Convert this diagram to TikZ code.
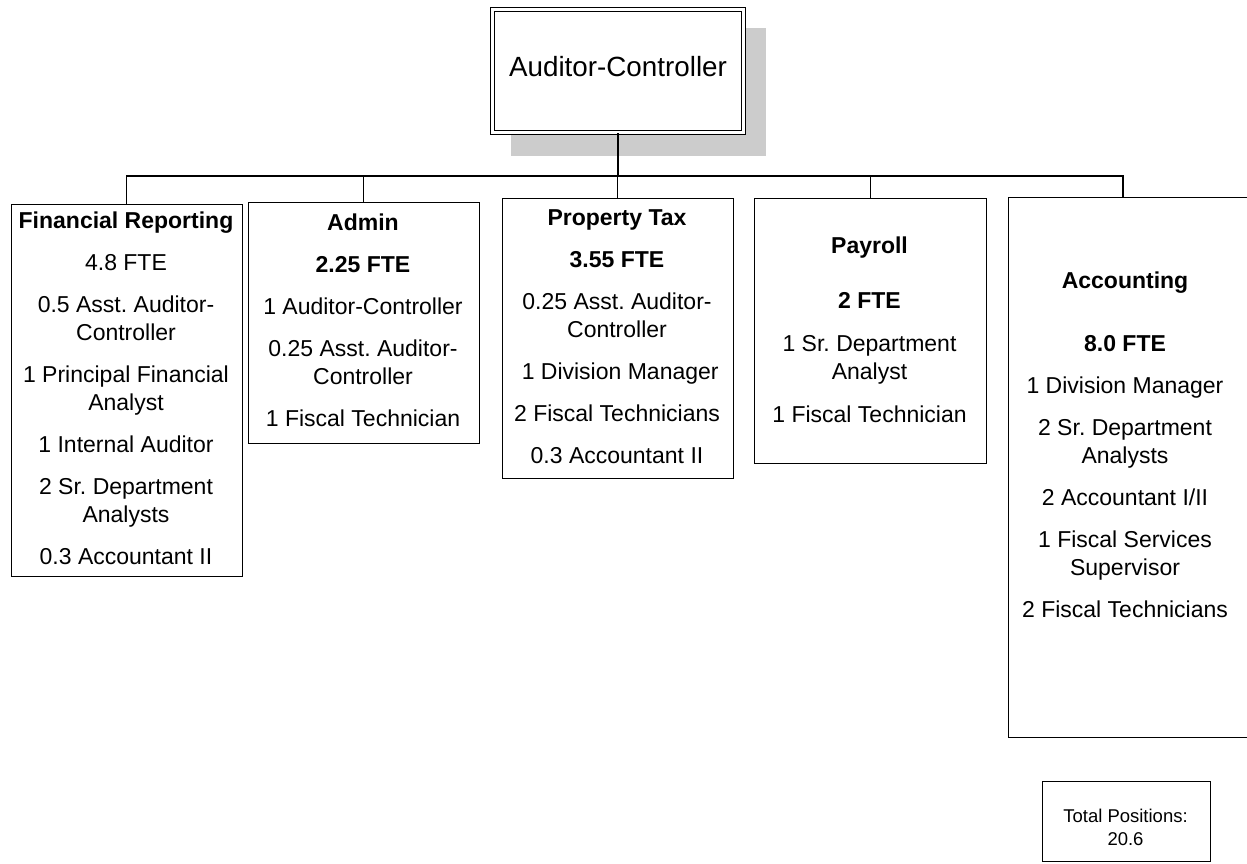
\documentclass[tikz,border=0pt]{standalone}
\usepackage{fontspec}
\setmainfont{Liberation Sans}
\frenchspacing

\begin{document}
\begin{tikzpicture}[x=1pt, y=-1pt, line width=1.3pt,
    dept/.style={draw, fill=white, inner sep=0pt, anchor=north west},
    staff/.style={align=center, inner sep=0pt, anchor=north, font=\fontsize{23}{28}\selectfont}]
    \useasboundingbox (0,0) rectangle (1247,863);
    \clip (0,0) rectangle (1247,863);
    % Head box with its shadow
    \fill[black!20] (511,28) rectangle (766,156);
    \node[dept, double, double distance=2.2pt, line width=1.1pt,
          minimum width=251pt, minimum height=123pt] (AC) at (492,9) {};
    \node[anchor=base, inner sep=0pt, font=\fontsize{27.8}{33}\selectfont] (ACname) at (618,76) {Auditor-Controller};
    % Nodes
    \node[dept, minimum width=231pt, minimum height=372pt] (fin) at (10.5,203.5) {};
    \node[dept, minimum width=231pt, minimum height=241pt] (adm) at (247.5,201.5) {};
    \node[dept, minimum width=231pt, minimum height=280pt] (prop) at (501.5,197.5) {};
    \node[dept, minimum width=232pt, minimum height=265pt] (pay) at (753.5,197.5) {};
    \node[dept, minimum width=250pt, minimum height=540pt] (acct) at (1007.5,197) {};
    \node[dept, minimum width=168pt, minimum height=80pt] (total) at (1041.5,780.5) {};
    \coordinate (acctTop) at (1123,197);
    \coordinate (bus) at (617,176);
    % Lines
    \draw[line width=2.3pt] (AC.south) -- (AC.south |- bus);
    \draw (fin.north) |- (bus) -| (acctTop);
    \foreach \d in {adm, prop, pay}
        \draw (\d.north) -- (\d.north |- bus);
    % Texts
    \node[staff] (finText) at (126,211.5) {\textbf{Financial Reporting}\\[14pt]
        4.8 FTE\\[14pt] 0.5 Asst. Auditor-\\Controller\\[14pt]
        1 Principal Financial\\Analyst\\[14pt] 1 Internal Auditor\\[14pt]
        2 Sr. Department\\Analysts\\[14pt] 0.3 Accountant II};
    \node[staff] (admText) at (363,213.5) {\textbf{Admin}\\[14pt]
        \textbf{2.25 FTE}\\[14pt] 1 Auditor-Controller\\[14pt]
        0.25 Asst. Auditor-\\Controller\\[14pt] 1 Fiscal Technician};
    \node[staff] (propText) at (617,209.5) {\textbf{Property Tax}\\[14pt]
        \textbf{3.55 FTE}\\[14pt] 0.25 Asst. Auditor-\\Controller\\[14pt]
        \ 1 Division Manager\\[14pt] 2 Fiscal Technicians\\[14pt] 0.3 Accountant II};
    \node[staff] (payText) at (869.5,236.5) {\textbf{Payroll}\\[27pt]
        \textbf{2 FTE}\\[15pt] 1 Sr. Department\\Analyst\\[15pt] 1 Fiscal Technician};
    \node[staff] (acctText) at (1125,271.5) {\textbf{Accounting}\\[35pt]
        \textbf{8.0 FTE}\\[14pt] 1 Division Manager\\[14pt] 2 Sr. Department\\Analysts\\[14pt]
        2 Accountant I/II\\[14pt] 1 Fiscal Services\\Supervisor\\[14pt] 2 Fiscal Technicians};
    \node[staff, font=\fontsize{18.5}{23}\selectfont] (totalText) at (1125.5,808.8) {Total Positions:\\20.6};
\end{tikzpicture}
\end{document}
